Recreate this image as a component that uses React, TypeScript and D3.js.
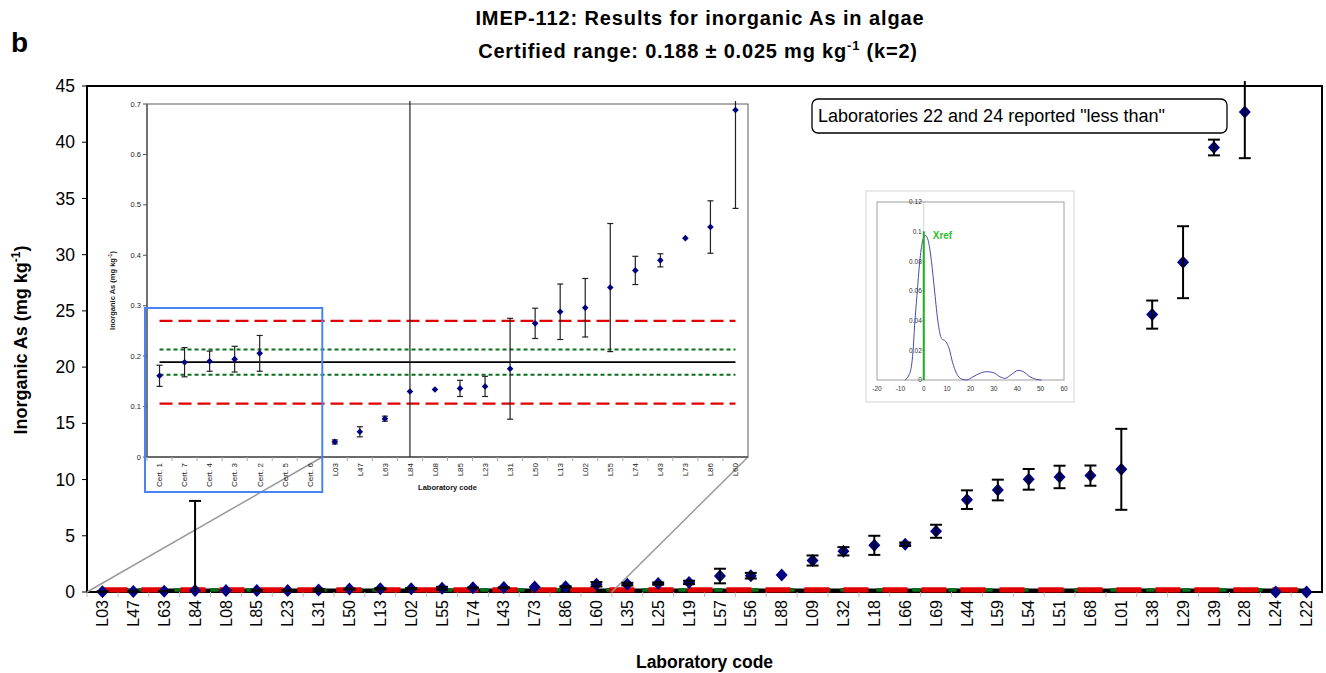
import React from "react";
import * as d3 from "d3";

// ---- Laboratory results (mg/kg), in plotting order ----
const labCodes = [
  "L03", "L47", "L63", "L84", "L08", "L85", "L23", "L31", "L50", "L13",
  "L02", "L55", "L74", "L43", "L73", "L86", "L60", "L35", "L25", "L19",
  "L57", "L56", "L88", "L09", "L32", "L18", "L66", "L69", "L44", "L59",
  "L54", "L51", "L68", "L01", "L38", "L29", "L39", "L28", "L24", "L22",
];
const labValues = [
  0.030, 0.050, 0.076, 0.130, 0.134, 0.136, 0.140, 0.175, 0.265, 0.288,
  0.296, 0.336, 0.370, 0.390, 0.434, 0.456, 0.688, 0.70, 0.75, 0.85,
  1.42, 1.45, 1.51, 2.80, 3.62, 4.15, 4.25, 5.40, 8.21, 9.07,
  10.02, 10.23, 10.35, 10.91, 24.67, 29.33, 39.53, 42.68, 0, 0,
];
const labUncertainties = [
  0.004, 0.010, 0.005, 7.97, 0, 0.016, 0.020, 0.100, 0.030, 0.055,
  0.058, 0.127, 0.028, 0.013, 0, 0.052, 0.195, 0.12, 0.10, 0.15,
  0.65, 0.25, 0, 0.45, 0.37, 0.85, 0.15, 0.58, 0.83, 0.92,
  0.92, 1.00, 0.90, 3.60, 1.25, 3.20, 0.70, 4.10, 0, 0,
];

// ---- Certified reference materials shown in the zoomed panel ----
const certLabels = ["Cert. 1", "Cert. 7", "Cert. 4", "Cert. 3", "Cert. 2", "Cert. 5", "Cert. 6"];
const certValues = [0.161, 0.188, 0.190, 0.194, 0.2055, null, null];
const certUncertainties = [0.021, 0.029, 0.020, 0.0255, 0.0355, null, null];

// Labs repeated in the zoomed panel (L03 … L60)
const zoomFirstLab = "L03";
const zoomLastLab = "L60";

// ---- Assigned value and ranges ----
const xRef = 0.188;
const uRef = 0.025;
const sigmaP = 0.041;

// ---- Axis ticks ----
const mainTicks = [0, 5, 10, 15, 20, 25, 30, 35, 40, 45];
const insetTicks = [0, 0.1, 0.2, 0.3, 0.4, 0.5, 0.6, 0.7];
const kdeXTicks = [-20, -10, 0, 10, 20, 30, 40, 50, 60];
const kdeYTicks = [0, 0.02, 0.04, 0.06, 0.08, 0.1, 0.12];

// ---- Kernel density of the reported results ----
const kdeX = [
  -8.1, -6.3, -5.3, -4.6, -3.9, -2.9, -1.7, -0.6, 0.7, 1.9, 3.3, 4.7, 6.1, 7.6,
  9.4, 10.9, 12.3, 14.0, 16.1, 18.3, 21.1, 24.0, 26.9, 29.7, 32.6, 34.7, 37.6,
  40.4, 42.6, 45.4, 48.3, 50.4,
];
const kdeY = [
  0, 0.0034, 0.009, 0.019, 0.037, 0.057, 0.080, 0.093, 0.0975, 0.094, 0.080,
  0.059, 0.039, 0.028, 0.026, 0.021, 0.012, 0.0045, 0.0007, 0, 0.0022, 0.0045,
  0.0056, 0.005, 0.0022, 0.0011, 0.0038, 0.0065, 0.0056, 0.0022, 0.0004, 0,
];

const FONT = "'Liberation Sans', Arial, Helvetica, sans-serif";
const NAVY = "#000080";

function diamond(cx: number, cy: number, hw: number, hh: number) {
  return `M${cx},${cy - hh}L${cx + hw},${cy}L${cx},${cy + hh}L${cx - hw},${cy}Z`;
}

type Pt = { code: string; v: number; u: number };

function ErrorBar({ x, y, p, lo, hi, cap, sw, color }: {
  x: number; y: d3.ScaleLinear<number, number>; p: Pt; lo: number; hi: number;
  cap: number; sw: number; color: string;
}) {
  if (!p.u) return null;
  const top = p.v + p.u;
  const bot = p.v - p.u;
  const topC = Math.min(top, hi);
  const botC = Math.max(bot, lo);
  return (
    <g stroke={color} strokeWidth={sw}>
      <line x1={x} x2={x} y1={y(topC)} y2={y(botC)} />
      {top <= hi && <line x1={x - cap} x2={x + cap} y1={y(top)} y2={y(top)} />}
      {bot >= lo && <line x1={x - cap} x2={x + cap} y1={y(bot)} y2={y(bot)} />}
    </g>
  );
}

export default function App() {
  const W = 1326;
  const H = 673;

  // ---------- main chart ----------
  const mL = 87, mR = 1322, mT = 86, mB = 592;
  const x = d3.scaleBand<string>().domain(labCodes).range([mL, mR]);
  const y = d3.scaleLinear().domain([0, 45]).range([mB, mT]);
  const xc = (c: string) => (x(c) as number) + x.bandwidth() / 2;
  const labs: Pt[] = labCodes.map((code, i) => ({ code, v: labValues[i], u: labUncertainties[i] }));
  const mainHi = 45 + 5 / (y(0) - y(1));

  const firstC = xc(labCodes[0]);
  const lastC = xc(labCodes[labCodes.length - 1]);

  // ---------- zoomed panel ----------
  const iL = 147, iR = 748, iT = 104, iB = 457;
  const zi0 = labCodes.indexOf(zoomFirstLab);
  const zi1 = labCodes.indexOf(zoomLastLab);
  const zoomLabs = labs.slice(zi0, zi1 + 1);
  const insetCats = [...certLabels, ...zoomLabs.map((d) => d.code)];
  const xi = d3.scaleBand<string>().domain(insetCats).range([iL, iR]);
  const yi = d3.scaleLinear().domain([0, 0.7]).range([iB, iT]);
  const xic = (c: string) => (xi(c) as number) + xi.bandwidth() / 2;
  const certPts: Pt[] = certLabels
    .map((code, i) => ({ code, v: certValues[i] as number, u: certUncertainties[i] as number }))
    .filter((d) => certValues[certLabels.indexOf(d.code)] !== null);
  const insetHi = 0.7 + 3 / (yi(0) - yi(1));
  const iFirst = xic(insetCats[0]);
  const iLast = xic(insetCats[insetCats.length - 1]);

  // blue frame around certified materials
  const certBoxL = (xi(certLabels[0]) as number) - 2;
  const certBoxR = (xi(certLabels[certLabels.length - 1]) as number) + xi.bandwidth();

  // ---------- kernel density panel ----------
  const kx = d3.scaleLinear().domain([-20, 60]).range([877, 1064]);
  const ky = d3.scaleLinear().domain([0, 0.12]).range([380, 202]);
  const kdeLine = d3
    .line<number>()
    .x((_, i) => kx(kdeX[i]))
    .y((d) => ky(d))
    .curve(d3.curveMonotoneX)(kdeY) as string;

  const refLines = (
    xs: [number, number], yy: d3.ScaleLinear<number, number>,
    redW: number, redDash: string, greenW: number, greenDash: string, blackW: number,
  ) => (
    <g>
      <line x1={xs[0]} x2={xs[1]} y1={yy(xRef)} y2={yy(xRef)} stroke="#000" strokeWidth={blackW} />
      {[xRef - uRef, xRef + uRef].map((v, i) => (
        <line key={"g" + i} x1={xs[0]} x2={xs[1]} y1={yy(v)} y2={yy(v)} stroke="#0a6e1a" strokeWidth={greenW} strokeDasharray={greenDash} />
      ))}
      {[xRef - 2 * sigmaP, xRef + 2 * sigmaP].map((v, i) => (
        <line key={"r" + i} x1={xs[0]} x2={xs[1]} y1={yy(v)} y2={yy(v)} stroke="#e00000" strokeWidth={redW} strokeDasharray={redDash} />
      ))}
    </g>
  );

  return (
    <svg width={W} height={H} style={{ position: "absolute", left: 0, top: 0, background: "#fff" }} fontFamily={FONT}>
      <rect x={0} y={0} width={W} height={H} fill="#fff" />

      {/* panel letter and title */}
      <text x={11} y={52} fontSize={28} fontWeight="bold">b</text>
      <text x={700} y={25} fontSize={20} fontWeight="bold" textAnchor="middle" letterSpacing={0.9}>
        IMEP-112: Results for inorganic As in algae
      </text>
      <text x={698} y={58} fontSize={20} fontWeight="bold" textAnchor="middle" letterSpacing={0.8}>
        Certified range: 0.188 ± 0.025 mg kg
        <tspan dy={-8} fontSize={13}>-1</tspan>
        <tspan dy={8}> (k=2)</tspan>
      </text>

      {/* main axes */}
      <rect x={mL} y={mT} width={mR - mL} height={mB - mT} fill="none" stroke="#000" strokeWidth={2} />
      {mainTicks.map((t) => (
        <g key={t}>
          <line x1={mL - 5} x2={mL} y1={y(t)} y2={y(t)} stroke="#000" strokeWidth={1} />
          <text x={75} y={y(t)} dy="0.35em" fontSize={17.5} textAnchor="end">{t}</text>
        </g>
      ))}
      {labCodes.map((c) => (
        <line key={"tk" + c} x1={x(c) as number} x2={x(c) as number} y1={mB} y2={mB + 5} stroke="#bbb" strokeWidth={1} />
      ))}
      {labCodes.map((c) => (
        <text key={"lb" + c} transform={`translate(${xc(c)},${mB + 8}) rotate(-90)`} dy="0.35em" fontSize={16} textAnchor="end">
          {c}
        </text>
      ))}
      <text transform={`translate(27,${(mT + mB) / 2 + 1}) rotate(-90)`} fontSize={18} fontWeight="bold" textAnchor="middle">
        Inorganic As (mg kg
        <tspan dy={-7} fontSize={12}>-1</tspan>
        <tspan dy={7}>)</tspan>
      </text>
      <text x={(mL + mR) / 2} y={668} fontSize={17.5} fontWeight="bold" textAnchor="middle">Laboratory code</text>

      {/* assigned value and ranges */}
      {refLines([firstC, lastC], y, 3.5, "25 14", 3, "8 10", 3)}

      {/* lines linking the zoomed range to its panel */}
      <line x1={x(zoomFirstLab) as number} y1={mB} x2={xi(zoomFirstLab) as number} y2={iB} stroke="#9a9a9a" strokeWidth={1.5} />
      <line x1={(x(zoomLastLab) as number) + x.bandwidth()} y1={mB} x2={(xi(zoomLastLab) as number) + xi.bandwidth()} y2={iB} stroke="#9a9a9a" strokeWidth={1.5} />

      {/* lab results */}
      {labs.map((p) => (
        <path key={"d" + p.code} d={diamond(xc(p.code), y(p.v), 6, 6.5)} fill={NAVY} />
      ))}
      {labs.map((p) => (
        <ErrorBar key={"e" + p.code} x={xc(p.code)} y={y} p={p} lo={0} hi={mainHi} cap={6} sw={2} color="#000" />
      ))}

      {/* note */}
      <rect x={812} y={99} width={415} height={34} rx={6} fill="#fff" stroke="#000" strokeWidth={1.3} />
      <text x={818} y={122} fontSize={18}>Laboratories 22 and 24 reported "less than"</text>

      {/* ---------- zoomed panel ---------- */}
      <g>
        <rect x={iL} y={iT} width={iR - iL} height={iB - iT} fill="#fff" stroke="#777" strokeWidth={1.2} />
        <line x1={iL} x2={iL} y1={iT} y2={iB} stroke="#555" strokeWidth={1.3} />
        <line x1={iL} x2={iR} y1={iB} y2={iB} stroke="#555" strokeWidth={1.3} />
        {insetTicks.map((t) => (
          <g key={"it" + t}>
            <line x1={iL - 4} x2={iL} y1={yi(t)} y2={yi(t)} stroke="#555" strokeWidth={1} />
            <text x={iL - 6} y={yi(t)} dy="0.35em" fontSize={7.5} textAnchor="end" fill="#222">{t}</text>
          </g>
        ))}
        {insetCats.map((c) => (
          <line key={"itk" + c} x1={xi(c) as number} x2={xi(c) as number} y1={iB} y2={iB + 4} stroke="#aaa" strokeWidth={1} />
        ))}
        {insetCats.map((c) => (
          <text key={"ilb" + c} transform={`translate(${xic(c)},${iB + 6}) rotate(-90)`} dy="0.35em" fontSize={8} textAnchor="end" fill="#222">
            {c}
          </text>
        ))}
        <text transform={`translate(115,${(iT + iB) / 2 + 10}) rotate(-90)`} fontSize={7.5} fontWeight="bold" textAnchor="middle" fill="#222">
          Inorganic As (mg kg
          <tspan dy={-3} fontSize={5}>-1</tspan>
          <tspan dy={3}>)</tspan>
        </text>
        <text x={(iL + iR) / 2} y={490} fontSize={7.5} fontWeight="bold" textAnchor="middle" fill="#111">Laboratory code</text>

        {refLines([iFirst, iLast], yi, 2.2, "13 6", 2, "4 3", 1.8)}

        {[...certPts, ...zoomLabs].map((p) => (
          <ErrorBar key={"ie" + p.code} x={xic(p.code)} y={yi} p={p} lo={0} hi={insetHi} cap={3} sw={1.2} color="#222" />
        ))}
        {[...certPts, ...zoomLabs].map((p) => (
          <path key={"id" + p.code} d={diamond(xic(p.code), yi(p.v), 3.3, 3.3)} fill={NAVY} />
        ))}

        <rect x={certBoxL} y={308} width={certBoxR - certBoxL} height={184} fill="none" stroke="#4a84f2" strokeWidth={2} />
      </g>

      {/* ---------- kernel density panel ---------- */}
      <g>
        <rect x={866} y={191} width={208} height={211} fill="#fff" stroke="#dcdcdc" strokeWidth={1.2} />
        <rect x={kx(-20)} y={ky(0.12)} width={kx(60) - kx(-20)} height={ky(0) - ky(0.12)} fill="none" stroke="#a0a0a0" strokeWidth={1} />
        <line x1={kx(0)} x2={kx(0)} y1={ky(0.12)} y2={ky(0)} stroke="#d0d0d0" strokeWidth={1} />
        {kdeYTicks.map((t) => (
          <g key={"ky" + t}>
            <line x1={kx(0) - 2} x2={kx(0) + 2} y1={ky(t)} y2={ky(t)} stroke="#bbb" strokeWidth={0.8} />
            <text x={kx(0) - 2} y={ky(t)} dy="0.35em" fontSize={6.5} textAnchor="end" fill="#333">{t}</text>
          </g>
        ))}
        {kdeXTicks.map((t) => (
          <text key={"kx" + t} x={kx(t)} y={391} fontSize={6.5} textAnchor="middle" fill="#333">{t}</text>
        ))}
        <path d={kdeLine} fill="none" stroke="#4a4aa8" strokeWidth={1} />
        <line x1={kx(0)} x2={kx(0)} y1={ky(0)} y2={ky(0.1)} stroke="#1fae1f" strokeWidth={2} />
        <text x={kx(0) + 9} y={ky(0.1) + 7} fontSize={10} fontWeight="bold" fill="#2fbf2f">Xref</text>
      </g>
    </svg>
  );
}
